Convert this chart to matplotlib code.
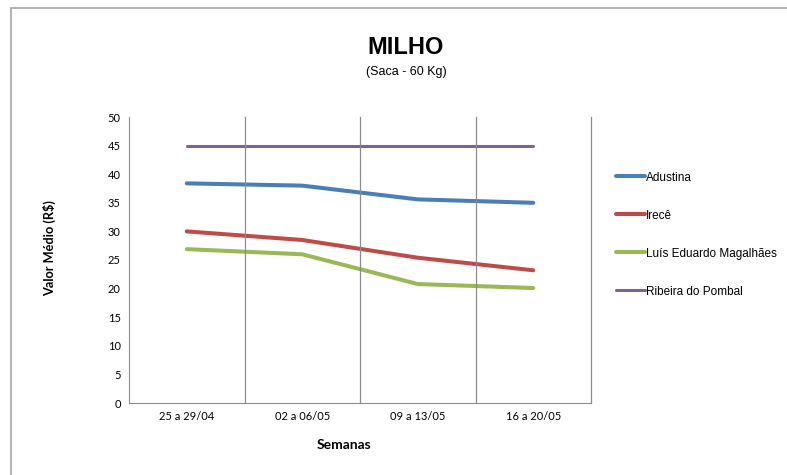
import numpy as np
import matplotlib.pyplot as plt
from matplotlib.patches import Rectangle

semanas = ['25 a 29/04', '02 a 06/05', '09 a 13/05', '16 a 20/05']
adustina = [38.4, 38.0, 35.6, 35.0]
irece = [30.0, 28.5, 25.4, 23.2]
luis_eduardo = [26.9, 26.0, 20.8, 20.1]
ribeira = [45, 45, 45, 45]

series = [
    ('Adustina', adustina, '#4A7EBB', 2.9),
    ('Irecê', irece, '#BE4B48', 2.9),
    ('Luís Eduardo Magalhães', luis_eduardo, '#98B954', 2.9),
    ('Ribeira do Pombal', ribeira, '#7D60A0', 2.2),
]

fig = plt.figure(figsize=(7.87, 4.75), dpi=100)
ax = fig.add_axes([129 / 787, 1 - 403 / 475, 462 / 787, 286 / 475])

# moldura do gráfico
fig.patches.append(Rectangle((11 / 787, -0.1), 1.2, 1 - 8 / 475 + 0.1,
                             transform=fig.transFigure, fill=False,
                             edgecolor='#A6A6A6', linewidth=1.2))

x = np.arange(len(semanas))
for nome, vals, cor, lw in series:
    ax.plot(x, vals, color=cor, linewidth=lw, label=nome,
            solid_capstyle='round', solid_joinstyle='round')

ax.set_xlim(-0.5, len(semanas) - 0.5)
ax.set_ylim(0, 50)
ax.set_yticks(range(0, 51, 5))
ax.set_xticks(x)
ax.set_xticklabels(semanas)
for xv in [0.5, 1.5, 2.5, 3.5]:
    ax.axvline(xv, color='#8C8C8C', linewidth=0.9, clip_on=False)

ax.spines['top'].set_visible(False)
ax.spines['right'].set_visible(False)
ax.spines['left'].set_color('#8C8C8C')
ax.spines['bottom'].set_color('#8C8C8C')
ax.tick_params(length=0, labelsize=8, colors='black', pad=6)
for lab in ax.get_xticklabels() + ax.get_yticklabels():
    lab.set_family('Lato')

ax.set_xlabel('Semanas', fontsize=10, fontweight='bold', family='Lato')
ax.xaxis.set_label_coords((344 - 129) / 462, (403 - 445) / 286)
ax.set_ylabel('Valor Médio (R$)', fontsize=9.2, fontweight='bold', family='Lato')
ax.yaxis.set_label_coords((50 - 129) / 462, (403 - 248) / 286)
ax.yaxis.label.set_va('center')
ax.xaxis.label.set_va('center')

fig.text(406 / 787, 1 - 48 / 475, 'MILHO', ha='center', va='center',
         fontsize=17, fontweight='bold', family='Liberation Sans')
fig.text(406 / 787, 1 - 72 / 475, '(Saca - 60 Kg)', ha='center', va='center',
         fontsize=9, family='Liberation Sans')

leg = ax.legend(loc='upper left', bbox_to_anchor=(605 / 787, 1 - 161 / 475),
                bbox_transform=fig.transFigure, frameon=False,
                prop={'family': 'Liberation Sans', 'size': 8.5},
                handlelength=2.5, handletextpad=0.1, labelspacing=2.2)

fig.savefig('out.png', dpi=100)
